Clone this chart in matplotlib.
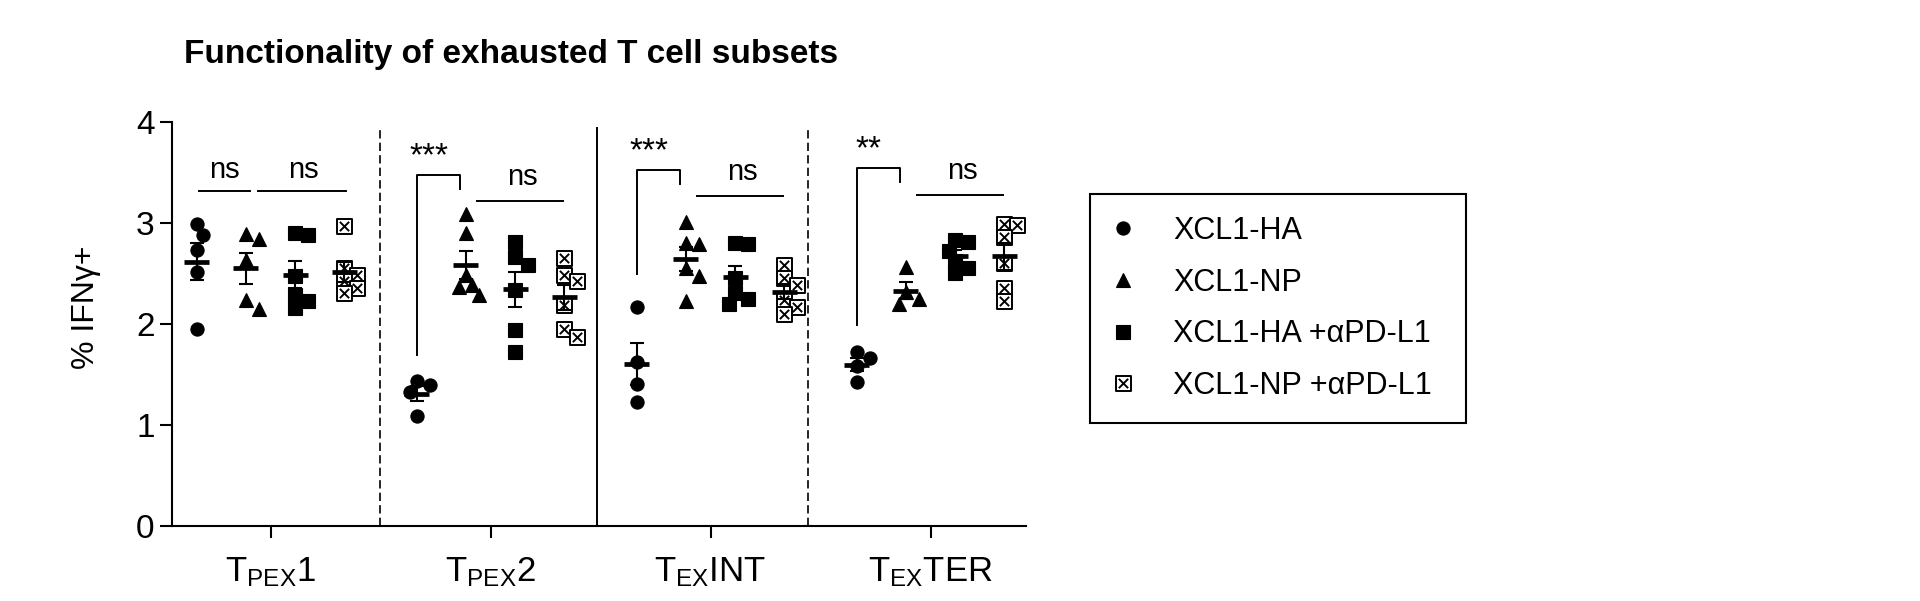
import numpy as np
import matplotlib
matplotlib.use("Agg")
import matplotlib.pyplot as plt
from matplotlib.path import Path
from matplotlib.lines import Line2D

plt.rcParams['font.family'] = ['Liberation Sans', 'DejaVu Sans']
plt.rcParams['mathtext.fontset'] = 'custom'
plt.rcParams['mathtext.rm'] = 'Liberation Sans'
plt.rcParams['mathtext.it'] = 'Liberation Sans:italic'
plt.rcParams['mathtext.bf'] = 'Liberation Sans:bold'

# data (% IFNg+ per mouse)
subsets = [r'$\mathregular{T_{PEX}1}$', r'$\mathregular{T_{PEX}2}$',
           r'$\mathregular{T_{EX}INT}$', r'$\mathregular{T_{EX}TER}$']
groups = ['XCL1-HA', 'XCL1-NP', 'XCL1-HA +αPD-L1', 'XCL1-NP +αPD-L1']

xcl1_ha = [
    [2.99, 2.88, 2.73, 2.51, 1.95],
    [1.43, 1.39, 1.32, 1.09],
    [2.17, 1.62, 1.40, 1.22],
    [1.72, 1.66, 1.58, 1.42],
]
xcl1_np = [
    [2.89, 2.84, 2.63, 2.23, 2.15],
    [3.09, 2.90, 2.48, 2.38, 2.36, 2.28],
    [3.01, 2.80, 2.79, 2.55, 2.47, 2.22],
    [2.56, 2.31, 2.24, 2.20],
]
xcl1_ha_pdl1 = [
    [2.90, 2.88, 2.47, 2.28, 2.22, 2.16],
    [2.81, 2.66, 2.58, 2.33, 1.94, 1.72],
    [2.80, 2.79, 2.45, 2.30, 2.24, 2.20],
    [2.83, 2.81, 2.72, 2.62, 2.55, 2.50],
]
xcl1_np_pdl1 = [
    [2.97, 2.55, 2.48, 2.42, 2.35, 2.30],
    [2.65, 2.48, 2.42, 2.19, 1.95, 1.87],
    [2.58, 2.45, 2.38, 2.23, 2.17, 2.10],
    [2.99, 2.98, 2.86, 2.60, 2.35, 2.22],
]

# significance: first = XCL1-HA vs XCL1-NP, second = the aPD-L1 comparison
sig_first = ['ns', '***', '***', '**']
sig_second = ['ns', 'ns', 'ns', 'ns']

# marker for the crossed square
xsq = Path([(-1, -1), (1, -1), (1, 1), (-1, 1), (-1, -1),
            (-0.62, -0.62), (0.62, 0.62), (-0.62, 0.62), (0.62, -0.62)],
           [Path.MOVETO, Path.LINETO, Path.LINETO, Path.LINETO, Path.CLOSEPOLY,
            Path.MOVETO, Path.LINETO, Path.MOVETO, Path.LINETO])

styles = [
    dict(marker='o', ms=9.5, mfc='black', mec='black', mew=0.8),
    dict(marker='^', ms=10.0, mfc='black', mec='black', mew=0.8),
    dict(marker='s', ms=10.5, mfc='black', mec='black', mew=0.8),
    dict(marker=xsq, ms=10.8, mfc='white', mec='black', mew=1.4),
]

XPX = 220.0   # pixels per category unit
YPX = 101.0   # pixels per y unit


def swarm(vals, step_px=6.5, dmin_px=12.0):
    vals = np.asarray(vals, dtype=float)
    xs = np.zeros(len(vals))
    placed = []
    for i in np.argsort(-vals):
        y = vals[i] * YPX
        for k in [0, 1, -1, 2, -2, 3, -3, 4, -4]:
            x = k * step_px
            if all(np.hypot(x - px, y - py) >= dmin_px for px, py in placed):
                break
        placed.append((x, y))
        xs[i] = x
    return xs / XPX


fig = plt.figure(figsize=(19.2, 6.01), dpi=100)
ax = fig.add_axes([172 / 1920, 1 - 525.7 / 601, (1026 - 172) / 1920, (525.7 - 121.7) / 601])

offsets = (np.arange(4) - 1.5) * 0.224
series = [xcl1_ha, xcl1_np, xcl1_ha_pdl1, xcl1_np_pdl1]

for ci in range(len(subsets)):
    for gi, s in enumerate(series):
        vals = np.asarray(s[ci])
        cx = ci + offsets[gi]
        ax.plot(cx + swarm(vals), vals, linestyle='none', zorder=3, **styles[gi])
        m = vals.mean()
        sem = vals.std(ddof=1) / np.sqrt(len(vals))
        ax.errorbar(cx, m, yerr=sem, fmt='none', ecolor='black', elinewidth=1.5,
                    capsize=4.8, capthick=1.5, zorder=4)
        ax.hlines(m, cx - 0.057, cx + 0.057, colors='black', linewidth=3.4, zorder=4)

# separators between subsets
ax.vlines([0.497, 2.443], 0, 3.95, colors='black', linestyles=(0, (5, 2.5)), linewidth=1.2)
ax.vlines([1.485], 0, 3.95, colors='black', linewidth=1.4)

# significance annotations
for ci in range(len(subsets)):
    if sig_first[ci] == 'ns':
        ax.plot([ci - 0.325, ci - 0.094], [3.31, 3.31], color='black', lw=1.4)
        ax.text(ci - 0.21, 3.44, 'ns', ha='center', va='baseline', fontsize=21)
        ax.plot([ci - 0.056, ci + 0.341], [3.31, 3.31], color='black', lw=1.4)
        ax.text(ci + 0.15, 3.44, 'ns', ha='center', va='baseline', fontsize=21)
    else:
        top = [None, 3.47, 3.52, 3.54][ci]
        lbot = [None, 1.69, 2.49, 1.99][ci]
        ax.plot([ci - 0.336, ci - 0.336, ci - 0.14, ci - 0.14],
                [lbot, top, top, top - 0.14], color='black', lw=1.4)
        ax.text(ci - 0.28, top + 0.10, sig_first[ci], ha='center', va='baseline',
                fontsize=24)
        yl = [None, 3.21, 3.26, 3.27][ci]
        ax.plot([ci - 0.06, ci + 0.33], [yl, yl], color='black', lw=1.4)
        ax.text(ci + 0.145, yl + 0.16, sig_second[ci], ha='center', va='baseline',
                fontsize=21)

ax.set_xlim(-0.448, 3.434)
ax.set_ylim(0, 4)
ax.set_yticks([0, 1, 2, 3, 4])
ax.set_xticks(range(len(subsets)))
ax.set_xticklabels(subsets)
for side in ['top', 'right']:
    ax.spines[side].set_visible(False)
for side in ['left', 'bottom']:
    ax.spines[side].set_linewidth(1.5)
ax.tick_params(axis='both', direction='out', length=8.5, width=1.5)
ax.tick_params(axis='y', pad=4, labelsize=24)
ax.tick_params(axis='x', pad=13, labelsize=25)
ax.set_ylabel('% IFNγ+', fontsize=23)
ax.yaxis.set_label_coords(-0.083, 0.54)

fig.text(184 / 1920, 1 - 63 / 601, 'Functionality of exhausted T cell subsets',
         fontsize=24, fontweight='bold', ha='left', va='baseline')

handles = [Line2D([], [], linestyle='none', **st) for st in styles]
leg = fig.legend(handles, groups, loc='upper left',
                 bbox_to_anchor=(1090 / 1920, 1 - 194 / 601, 376 / 1920, 0.0),
                 mode='expand', borderaxespad=0, fontsize=22, frameon=True,
                 fancybox=False, edgecolor='black', framealpha=1,
                 borderpad=0.72, labelspacing=0.71, handlelength=0.7,
                 handletextpad=1.3)
leg.get_frame().set_linewidth(1.5)

fig.savefig('out.png', dpi=100, facecolor='white')
